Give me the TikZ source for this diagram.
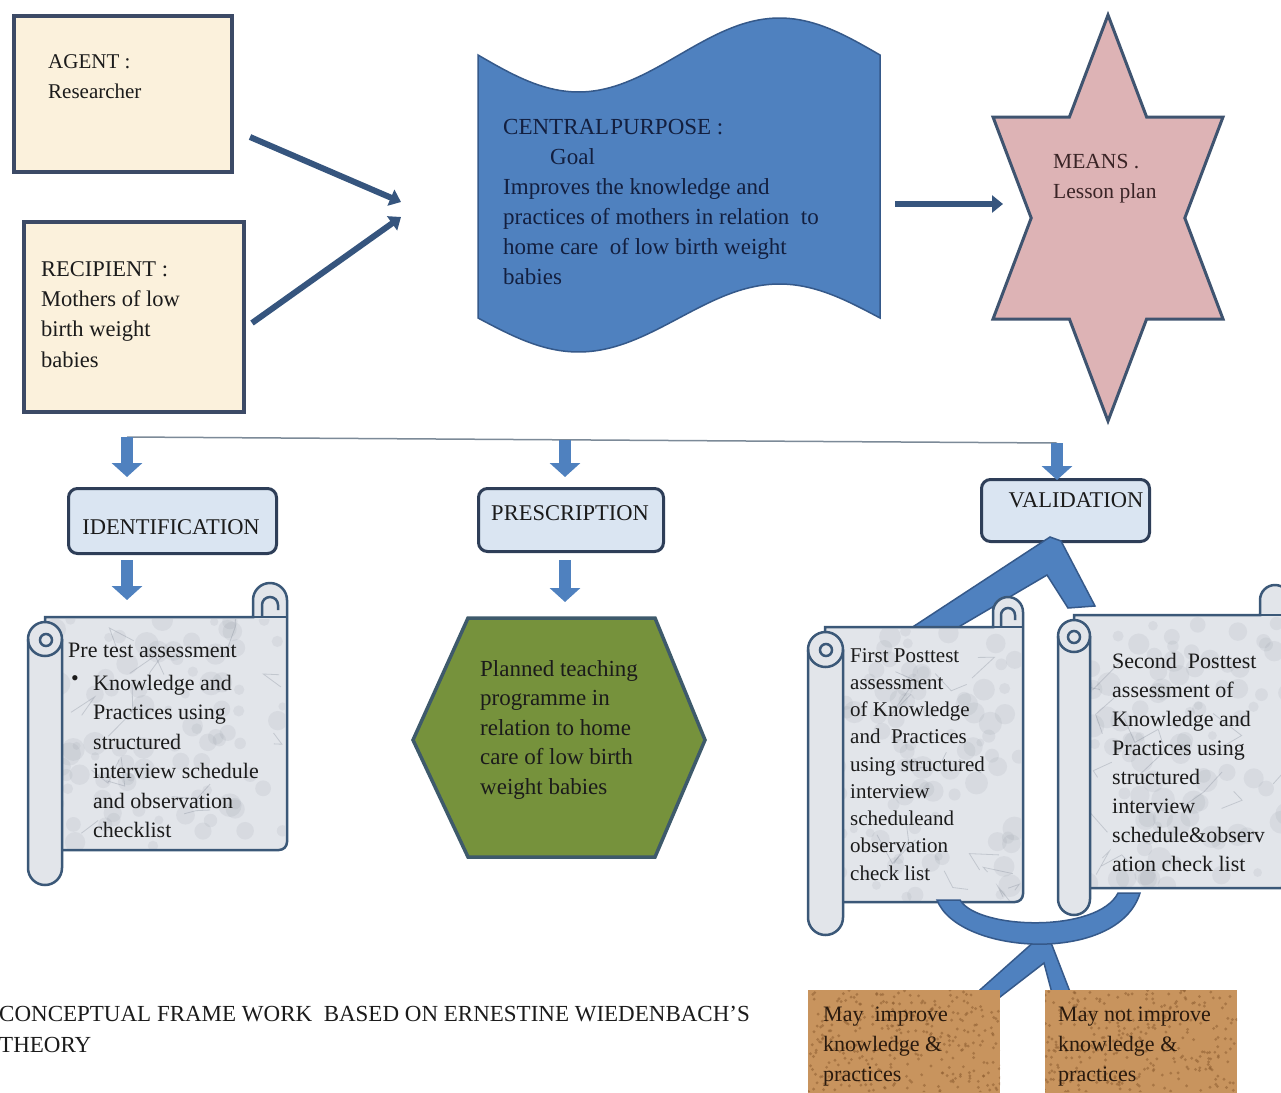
\documentclass[tikz,border=0pt]{standalone}
\usepackage{fontspec}
\setmainfont{Liberation Serif}
\usetikzlibrary{arrows.meta}
\definecolor{cream}{HTML}{FBF1DC}
\definecolor{boxedge}{HTML}{3C4A66}
\definecolor{darkarrow}{HTML}{36557E}
\definecolor{shapeblue}{HTML}{4F81BF}
\definecolor{blueedge}{HTML}{35598A}
\definecolor{navytext}{HTML}{131F3F}
\definecolor{starfill}{HTML}{DDB3B5}
\definecolor{staredge}{HTML}{3F5470}
\definecolor{startext}{HTML}{3A2426}
\definecolor{hlinecol}{HTML}{7C8A98}
\definecolor{labelfill}{HTML}{DAE5F2}
\definecolor{labeledge}{HTML}{2E3E58}
\definecolor{scrollbg}{HTML}{E2E5EA}
\definecolor{scrolledge}{HTML}{3B5878}
\definecolor{veincol}{HTML}{7A8290}
\definecolor{hexfill}{HTML}{76923C}
\definecolor{hexedge}{HTML}{3E5A6B}
\definecolor{corkcol}{HTML}{C8945E}
\definecolor{corkdark}{HTML}{8E5E32}
\definecolor{inkblack}{HTML}{1B1B1B}
\definecolor{corkink}{HTML}{2A1A0E}
\newcommand\myfs[2]{\fontsize{#1}{#2}\selectfont}
\newcommand\mymarble[4]{% x0 y0 width height (y0 negative top)
  \begin{scope}
  \clip (#1,#2) rectangle ++(#3,-#4);
  \foreach \i in {1,...,90} {
    \fill[veincol, opacity=0.10] ({#1+#3*rnd},{#2-#4*rnd}) circle[radius={4+8*rnd}];
  }
  \foreach \i in {1,...,14} {
    \draw[veincol, opacity=0.30, line width=0.8pt] ({#1+#3*rnd},{#2-#4*rnd}) -- ++({60*rnd-30},{60*rnd-30}) -- ++({50*rnd-25},{50*rnd-25});
  }
  \end{scope}}
\begin{document}
\begin{tikzpicture}[x=1pt,y=1pt,
  cbox/.style={draw=boxedge, line width=3.5pt, fill=cream, anchor=north west, inner sep=0pt},
  txt/.style={inner sep=0pt, anchor=north west, align=left, text=inkblack},
  darrow/.style={draw=darkarrow, line width=6pt, -{Triangle[width=17pt,length=11pt]}},
  barrow/.style={draw=shapeblue, line width=12pt, -{Triangle[width=30pt,length=14pt]}},
  labelbox/.style={draw=labeledge, line width=3pt, fill=labelfill, rounded corners=9pt, anchor=north west, inner sep=0pt},
  labeltxt/.style={inner sep=0pt, text=inkblack, font=\myfs{22.5}{27}},
  scrollsty/.style={draw=scrolledge, line width=2.5pt, fill=scrollbg},
  scrollline/.style={draw=scrolledge, line width=2.5pt},
  blueshape/.style={draw=blueedge, line width=1.5pt, fill=shapeblue},
  starsty/.style={draw=staredge, line width=3pt, fill=starfill},
  hexsty/.style={draw=hexedge, line width=3.5pt, fill=hexfill},
  hline/.style={draw=hlinecol, line width=1.5pt},
  cork/.style={fill=corkcol, anchor=north west, inner sep=0pt}
]
\useasboundingbox (0,0) rectangle (1281,-1092);
\fill[white] (0,0) rectangle (1281,-1092);
\pgfmathsetseed{11}

% ---------- agent / recipient ----------
\node[cbox, minimum width=218pt, minimum height=156pt] (agent) at (12,-14) {};
\node[txt, font=\myfs{21}{30}] (agenttxt) at (48,-54) {AGENT :\\Researcher};
\node[cbox, minimum width=220pt, minimum height=190pt] (recip) at (22,-220) {};
\node[txt, font=\myfs{22.5}{30.3}] (reciptxt) at (41,-261) {RECIPIENT :\\Mothers of low\\birth weight\\babies};

\coordinate (a1s) at (250,-137); \coordinate (a1e) at (401,-202);
\coordinate (a2s) at (252,-323); \coordinate (a2e) at (401,-217);
\draw[darrow] (a1s) -- (a1e);
\draw[darrow] (a2s) -- (a2e);

% ---------- central purpose ----------
\filldraw[blueshape] plot[domain=478:880,samples=80] (\x,{-55-37*sin(0.89552*(\x-478))})
  -- plot[domain=880:478,samples=80] (\x,{-318-34*sin(0.89552*(\x-478))}) -- cycle;
\node[txt, font=\myfs{23}{30}, text=navytext] (centraltxt) at (503,-119)
  {CENTRAL\hspace{1pt}PURPOSE :\\\hspace*{47pt}Goal\\Improves the knowledge and\\practices of mothers in relation\ \ to\\home care\ \ of low birth weight\\babies};

% ---------- means ----------
\coordinate (a3s) at (895,-204); \coordinate (a3e) at (1003,-204);
\draw[darrow] (a3s) -- (a3e);
\filldraw[starsty] (1108,-15) -- (1146.6,-117) -- (1223,-117) -- (1184.8,-218) -- (1223,-319)
  -- (1146.6,-319) -- (1108,-421) -- (1069.4,-319) -- (993,-319) -- (1031.2,-218)
  -- (993,-117) -- (1069.4,-117) -- cycle;
\node[txt, font=\myfs{21.5}{30}, text=startext] (meanstxt) at (1053,-154) {MEANS .\\Lesson plan};

% ---------- line and labels ----------
\coordinate (hl) at (127,-437); \coordinate (hm) at (565,-440); \coordinate (hr) at (1057,-443);
\draw[hline] (hl) -- (hr);
\node[labelbox, minimum width=208pt, minimum height=65pt] (ident) at (67,-487) {};
\node[labeltxt] (identtxt) at (171,-527) {IDENTIFICATION};
\node[labelbox, minimum width=185pt, minimum height=63pt] (presc) at (477,-487) {};
\node[labeltxt] (presctxt) at (570,-513) {PRESCRIPTION};
\node[labelbox, minimum width=168pt, minimum height=62pt] (valid) at (980,-478) {};
\node[labeltxt] (validtxt) at (1076,-500) {VALIDATION};

\coordinate (d1) at (127,-477); \coordinate (d2) at (565,-477); \coordinate (d3) at (1057,-480);
\draw[barrow] (hl) -- (d1);
\draw[barrow] (hm) -- (d2);
\draw[barrow] (hr) -- (d3);
\coordinate (e1s) at (127,-560); \coordinate (e1e) at (127,-600);
\coordinate (e2s) at (565,-560); \coordinate (e2e) at (565,-602);
\draw[barrow] (e1s) -- (e1e);
\draw[barrow] (e2s) -- (e2e);

% ---------- pretest scroll ----------
\filldraw[scrollsty] (45,-617) -- (253,-617) -- (253,-600) arc[start angle=180,end angle=0,radius=17]
  -- (287,-842) arc[start angle=0,end angle=-90,radius=8] -- (45,-850) -- cycle;
\mymarble{47}{-619}{238}{229}
\draw[scrollline] (253,-617) -- (287,-617);
\draw[scrollline] (262,-617) -- (262,-605) arc[start angle=180,end angle=0,radius=8] -- (278,-610);
\filldraw[scrollsty] (28,-639) -- (28,-868) arc[start angle=180,end angle=360,radius=17]
  -- (62,-639) arc[start angle=0,end angle=180,radius=17] -- cycle;
\draw[scrollline] (62,-639) arc[start angle=0,end angle=-180,radius=17];
\draw[scrollline] (46,-640) circle[radius=6];
\node[txt, font=\myfs{22}{29.5}] (pretitle) at (68,-643) {Pre test assessment};
\node[txt, font=\myfs{22}{29.5}] (prebullet) at (71,-675) {\textbullet};
\node[txt, font=\myfs{22}{29.5}] (pretxt) at (93,-675)
  {Knowledge and\\Practices using\\structured\\interview schedule\\and observation\\checklist};

% ---------- hexagon ----------
\filldraw[hexsty] (413,-740) -- (468,-618) -- (655,-618) -- (705,-740) -- (655,-857) -- (468,-857) -- cycle;
\node[txt, font=\myfs{23}{29.5}] (hextxt) at (480,-660)
  {Planned teaching\\programme in\\relation to home\\care of low birth\\weight babies};

% ---------- validation chevron ----------
\filldraw[blueshape] (905,-632) -- (1050,-537) -- (1061,-541) -- (1095,-606) -- (1068,-608)
  -- (1047,-575) -- (950,-632) -- cycle;

% ---------- first posttest scroll ----------
\filldraw[scrollsty] (825,-627) -- (993,-627) -- (993,-612) arc[start angle=180,end angle=0,radius=15]
  -- (1023,-894) arc[start angle=0,end angle=-90,radius=8] -- (825,-902) -- cycle;
\mymarble{827}{-629}{194}{271}
\draw[scrollline] (993,-627) -- (1023,-627);
\draw[scrollline] (1001,-627) -- (1001,-615) arc[start angle=180,end angle=0,radius=7] -- (1015,-620);
\filldraw[scrollsty] (808,-649.5) -- (808,-917.5) arc[start angle=180,end angle=360,radius=17.5]
  -- (843,-649.5) arc[start angle=0,end angle=180,radius=17.5] -- cycle;
\draw[scrollline] (843,-649.5) arc[start angle=0,end angle=-180,radius=17.5];
\draw[scrollline] (826,-650) circle[radius=6];
\node[txt, font=\myfs{21}{27.25}] (post1txt) at (850,-648)
  {First Posttest\\assessment\\of Knowledge\\and\ \ Practices\\using structured\\interview\\scheduleand\\observation\\check list};

% ---------- second posttest scroll ----------
\filldraw[scrollsty] (1074,-615) -- (1260,-615) -- (1260,-600) arc[start angle=180,end angle=0,radius=15]
  -- (1290,-880) arc[start angle=0,end angle=-90,radius=8] -- (1074,-888) -- cycle;
\mymarble{1076}{-617}{212}{269}
\draw[scrollline] (1260,-615) -- (1290,-615);
\filldraw[scrollsty] (1058,-636) -- (1058,-899) arc[start angle=180,end angle=360,radius=16]
  -- (1090,-636) arc[start angle=0,end angle=180,radius=16] -- cycle;
\draw[scrollline] (1090,-636) arc[start angle=0,end angle=-180,radius=16];
\draw[scrollline] (1074,-637) circle[radius=6];
\node[txt, font=\myfs{22}{29}] (post2txt) at (1112,-653)
  {Second\ \ Posttest\\assessment of\\Knowledge and\\Practices using\\structured\\interview\\schedule\&observ\\ation check list};

% ---------- result connectors ----------
\filldraw[blueshape] (1036,-940) -- (1050,-940) -- (1072,-997) -- (1053,-997) -- (1044,-963)
  -- (1000,-997) -- (972,-997) -- cycle;
\filldraw[blueshape] (937,-900) .. controls (958,-955) and (1118,-965) .. (1140,-893)
  -- (1118,-893) .. controls (1098,-933) and (978,-930) .. (960,-900) -- cycle;

% ---------- cork boxes ----------
\node[cork, minimum width=192pt, minimum height=110pt] (may1) at (808,-990) {};
\node[cork, minimum width=192pt, minimum height=110pt] (may2) at (1045,-990) {};
\begin{scope}
\clip (808,-990) rectangle (1000,-1092) (1045,-990) rectangle (1237,-1092);
\foreach \i in {1,...,700} {
  \fill[corkdark, opacity=0.55] ({808+429*rnd},{-990-102*rnd}) circle[radius=1.6];
}
\end{scope}
\node[txt, font=\myfs{22}{30}, text=corkink] (may1txt) at (823,-1007) {May\ \ improve\\knowledge \&\\practices};
\node[txt, font=\myfs{22}{30}, text=corkink] (may2txt) at (1058,-1007) {May not improve\\knowledge \&\\practices};

% ---------- caption ----------
\node[txt, font=\myfs{23}{31}] (caption) at (-1,-1006)
  {CONCEPTUAL FRAME WORK\ \ BASED ON ERNESTINE WIEDENBACH'S\\THEORY};
\end{tikzpicture}
\end{document}
